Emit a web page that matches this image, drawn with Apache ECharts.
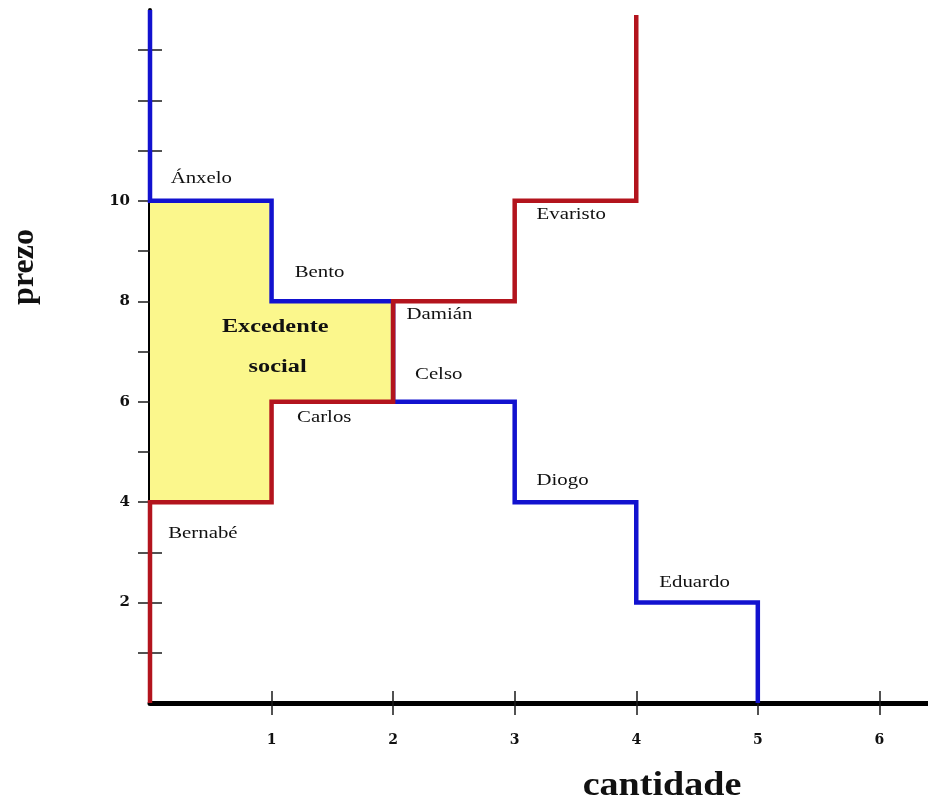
<!DOCTYPE html>
<html>
<head>
<meta charset="utf-8">
<script src="https://cdn.jsdelivr.net/npm/echarts@6/dist/echarts.min.js"></script>
<style>
  html, body { margin: 0; padding: 0; background: #fff; }
  #main { width: 928px; height: 805px; }
</style>
</head>
<body>
<div id="main"></div>
<script>
// compradores (prezo máximo) e vendedores (prezo mínimo)
var buyers = ['Ánxelo', 'Bento', 'Celso', 'Diogo', 'Eduardo'];
var buyerPrices = [10, 8, 6, 4, 2];
var sellers = ['Bernabé', 'Carlos', 'Damián', 'Evaristo'];
var sellerPrices = [4, 6, 8, 10];
var demandTop = 13.8;
var supplyTop = 13.7;

var xTicks = [1, 2, 3, 4, 5, 6];
var yTicks = [1, 2, 3, 4, 5, 6, 7, 8, 9, 10, 11, 12, 13];
var yLabels = [2, 4, 6, 8, 10];

// texto das etiquetas e a sua posición (en unidades dos eixos)
var labelTexts = ['Ánxelo', 'Bento', 'Damián', 'Celso', 'Carlos', 'Evaristo', 'Diogo', 'Eduardo', 'Bernabé'];
var labelX = [0.17, 1.19, 2.11, 2.18, 1.21, 3.18, 3.18, 4.19, 0.15];
var labelY = [10.44, 8.57, 7.73, 6.53, 5.68, 9.72, 4.42, 2.39, 3.37];
var surplusTexts = ['Excedente', 'social'];
var surplusX = [1.03, 1.05];
var surplusY = [7.49, 6.69];

// curva de demanda (escaleira)
var demand = [[0, demandTop]];
for (var i = 0; i < buyerPrices.length; i++) {
    demand.push([i, buyerPrices[i]]);
    demand.push([i + 1, buyerPrices[i]]);
}
demand.push([buyerPrices.length, 0]);

// curva de oferta
var supply = [[0, 0]];
for (var j = 0; j < sellerPrices.length; j++) {
    supply.push([j, sellerPrices[j]]);
    supply.push([j + 1, sellerPrices[j]]);
}
supply.push([sellerPrices.length, supplyTop]);

// excedente: entre a demanda e a oferta mentres a demanda está por riba
var upper = [], lower = [];
for (var k = 0; k < buyerPrices.length && k < sellerPrices.length; k++) {
    if (buyerPrices[k] <= sellerPrices[k]) break;
    upper.push([k, buyerPrices[k]], [k + 1, buyerPrices[k]]);
    lower.push([k, sellerPrices[k]], [k + 1, sellerPrices[k]]);
}
var surplus = upper.concat(lower.reverse());

var serif = '"Liberation Serif", "Times New Roman", serif';

var myChart = echarts.init(document.getElementById('main'));

var option = {
    backgroundColor: '#fff',
    animation: false,
    grid: { left: 150, right: 0, top: 10, bottom: 102, outerBoundsMode: 'none' },
    xAxis: [{
        type: 'value', min: 0, max: 6.4,
        axisLine: { show: true, onZero: false, lineStyle: { color: '#000', width: 5 } },
        axisTick: { show: true, customValues: xTicks, length: 12, lineStyle: { color: '#1a1a1a', width: 1.5 } },
        axisLabel: { customValues: xTicks, margin: 30, color: '#111', fontFamily: 'DejaVu Serif', fontWeight: 'bold', fontSize: 14 },
        splitLine: { show: false }
    }, {
        type: 'value', min: 0, max: 6.4, position: 'bottom',
        axisLine: { show: false },
        axisTick: { show: true, inside: true, customValues: xTicks, length: 12, lineStyle: { color: '#1a1a1a', width: 1.5 } },
        axisLabel: { show: false },
        splitLine: { show: false }
    }],
    yAxis: [{
        type: 'value', min: 0, max: demandTop,
        axisLine: { show: true, onZero: false, lineStyle: { color: '#000', width: 4 } },
        axisTick: { show: true, customValues: yTicks, length: 12, lineStyle: { color: '#1a1a1a', width: 1.5 } },
        axisLabel: { customValues: yLabels, margin: 20, color: '#111', fontFamily: 'DejaVu Serif', fontWeight: 'bold', fontSize: 15 },
        splitLine: { show: false }
    }, {
        type: 'value', min: 0, max: demandTop, position: 'left',
        axisLine: { show: false },
        axisTick: { show: true, inside: true, customValues: yTicks, length: 12, lineStyle: { color: '#1a1a1a', width: 1.5 } },
        axisLabel: { show: false },
        splitLine: { show: false }
    }],
    graphic: [{
        type: 'text', x: 25, y: 267, rotation: Math.PI / 2,
        style: { text: 'prezo', font: 'bold 32px ' + serif, fill: '#111', align: 'center', verticalAlign: 'middle' }
    }, {
        type: 'text', x: 662, y: 786, scaleX: 1.12,
        style: { text: 'cantidade', font: 'bold 34px ' + serif, fill: '#111', align: 'center', verticalAlign: 'middle' }
    }],
    series: [
        {
            name: 'excedente',
            type: 'custom',
            data: [0],
            z: 1,
            renderItem: function (params, api) {
                var pts = surplus.map(function (p) { return api.coord(p); });
                return { type: 'polygon', shape: { points: pts }, style: { fill: '#fbf78c', stroke: null } };
            }
        },
        {
            name: 'demanda',
            type: 'line',
            data: demand,
            showSymbol: false,
            clip: false,
            z: 3,
            lineStyle: { color: '#1212cf', width: 4.5, join: 'miter' }
        },
        {
            name: 'oferta',
            type: 'line',
            data: supply,
            showSymbol: false,
            clip: false,
            z: 4,
            lineStyle: { color: '#b3141d', width: 4.5, join: 'miter' }
        },
        {
            name: 'etiquetas',
            type: 'custom',
            z: 5,
            data: labelTexts.map(function (t, i) { return [labelX[i], labelY[i], i]; }),
            renderItem: function (params, api) {
                var p = api.coord([api.value(0), api.value(1)]);
                return {
                    type: 'text', x: p[0], y: p[1], scaleX: 1.3,
                    style: { text: labelTexts[api.value(2)], font: '16px ' + serif, fill: '#111', align: 'left', verticalAlign: 'middle' }
                };
            }
        },
        {
            name: 'excedente texto',
            type: 'custom',
            z: 5,
            data: surplusTexts.map(function (t, i) { return [surplusX[i], surplusY[i], i]; }),
            renderItem: function (params, api) {
                var p = api.coord([api.value(0), api.value(1)]);
                return {
                    type: 'text', x: p[0], y: p[1], scaleX: 1.35,
                    style: { text: surplusTexts[api.value(2)], font: 'bold 18px ' + serif, fill: '#111', align: 'center', verticalAlign: 'middle' }
                };
            }
        }
    ]
};
myChart.setOption(option);
</script>
</body>
</html>
